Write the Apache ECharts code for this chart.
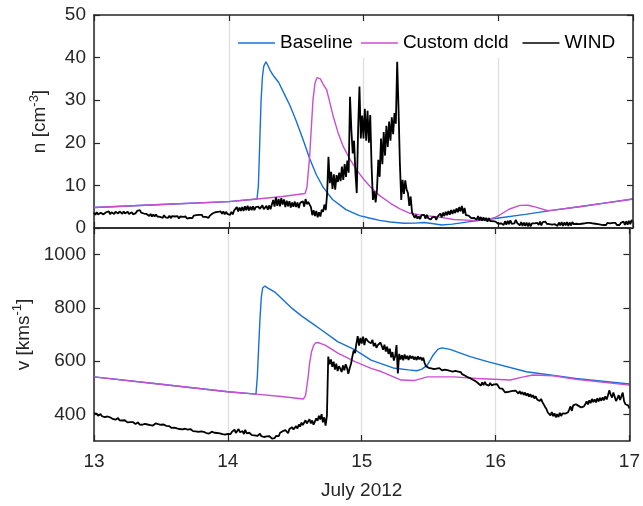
<!DOCTYPE html>
<html>
<head>
<meta charset="utf-8">
<script src="https://cdn.jsdelivr.net/npm/echarts@6/dist/echarts.min.js"></script>
<style>
  html, body { margin: 0; padding: 0; background: #fff; }
  #chart { width: 643px; height: 506px; }
</style>
</head>
<body>
<div id="chart"></div>
<script>
// Axis ticks
const dayTicks = [13, 14, 15, 16, 17];
const nTicks = [0, 10, 20, 30, 40, 50];
const vTicks = [400, 600, 800, 1000];

// WIND observations, sampled every 0.01 day from 13.00 to 17.00 July 2012
const windStart = 13;
const windStep = 0.01;
const windN = [
  3.6, 3.1, 3.7, 3.2, 3.0, 3.6, 3.8, 3.2, 3.1, 3.7,
  3.4, 3.9, 3.2, 3.7, 3.9, 3.3, 3.8, 4.0, 3.4, 3.9,
  3.8, 3.3, 3.9, 3.4, 3.2, 3.8, 3.3, 3.1, 3.7, 3.2,
  3.6, 3.5, 4.0, 3.6, 4.2, 3.6, 4.0, 3.4, 3.6, 3.3,
  3.4, 2.8, 3.3, 2.7, 3.2, 2.7, 3.2, 2.7, 2.9, 2.6,
  3.0, 2.4, 3.0, 2.5, 2.9, 2.4, 2.9, 2.3, 2.8, 2.4,
  2.7, 2.3, 2.8, 2.2, 2.7, 2.3, 2.6, 2.3, 2.7, 2.2,
  2.6, 2.4, 2.8, 2.3, 2.9, 2.5, 3.0, 2.6, 3.1, 2.7,
  3.1, 2.6, 2.9, 2.6, 2.9, 2.4, 2.9, 2.8, 3.4, 3.2,
  3.7, 3.4, 3.8, 3.5, 3.9, 3.3, 3.9, 3.2, 3.8, 3.3,
  3.6, 3.1, 3.8, 3.2, 4.1, 4.0, 4.9, 3.9, 4.8, 4.0,
  4.9, 4.0, 5.1, 4.2, 5.2, 4.1, 5.0, 4.2, 5.1, 4.2,
  4.9, 4.6, 5.0, 4.5, 4.9, 5.3, 4.4, 4.8, 5.2, 4.3,
  5.3, 4.4, 5.5, 6.6, 5.0, 7.2, 5.2, 6.8, 5.1, 7.0,
  5.5, 6.7, 4.9, 6.4, 5.1, 6.3, 4.8, 6.0, 5.0, 6.2,
  4.9, 6.0, 4.7, 5.9, 5.5, 6.3, 5.0, 6.8, 5.6, 6.1,
  5.5, 4.9, 3.0, 4.2, 2.8, 4.0, 2.5, 3.7, 2.7, 4.3,
  3.8, 5.5, 4.2, 8.0, 16.7, 10.5, 13.2, 9.2, 12.6, 9.0,
  12.4, 10.8, 13.0, 11.0, 14.4, 11.3, 15.0, 12.0, 15.8, 13.0,
  30.8, 23.0, 17.5, 20.5, 13.0, 8.2, 23.0, 33.2, 21.0, 26.4,
  21.0, 28.0, 20.5, 27.5, 20.0, 26.5, 14.4, 6.6, 8.6, 6.0,
  9.0, 16.0, 12.0, 21.0, 15.0, 22.5, 17.0, 24.0, 19.0, 25.0,
  20.5, 26.0, 22.0, 27.0, 24.5, 39.0, 28.0, 15.2, 6.6, 11.3,
  8.0, 11.2, 9.0, 8.2, 5.2, 7.4, 3.7, 3.6, 2.4, 3.1,
  2.2, 2.7, 2.1, 3.0, 2.6, 3.1, 2.2, 3.1, 2.3, 2.7,
  2.0, 2.5, 2.2, 2.6, 1.9, 2.7, 2.6, 3.4, 2.5, 3.6,
  2.8, 3.8, 3.0, 4.0, 3.1, 4.2, 3.3, 4.3, 3.5, 4.6,
  3.7, 4.9, 3.9, 5.2, 3.4, 4.7, 3.0, 3.3, 2.9, 3.0,
  2.3, 2.7, 2.4, 2.6, 1.9, 2.8, 1.8, 2.6, 1.7, 2.5,
  1.7, 2.4, 1.5, 2.3, 1.6, 2.0, 1.6, 1.9, 1.5, 1.8,
  1.0, 1.4, 1.1, 1.5, 0.7, 1.6, 0.8, 1.7, 0.9, 1.8,
  1.0, 1.4, 1.1, 1.9, 1.2, 1.5, 0.6, 1.4, 0.5, 1.3,
  0.5, 1.3, 0.4, 1.2, 0.4, 1.1, 0.7, 1.1, 0.8, 1.2,
  0.7, 1.5, 0.6, 1.4, 1.1, 1.5, 1.0, 1.3, 0.9, 1.2,
  0.8, 1.2, 0.9, 1.3, 0.5, 1.3, 0.6, 1.4, 0.5, 1.3,
  0.6, 1.4, 0.5, 1.3, 0.6, 1.4, 0.9, 1.3, 1.0, 1.4,
  0.9, 1.3, 1.0, 1.4, 1.1, 1.5, 1.2, 1.6, 1.2, 1.5,
  1.1, 1.4, 1.0, 1.3, 0.9, 1.2, 0.8, 1.2, 0.7, 1.1,
  0.7, 1.2, 0.8, 1.1, 0.7, 1.2, 0.8, 1.2, 0.7, 1.1,
  0.7, 1.2, 0.8, 1.5, 0.7, 1.6, 0.8, 1.7, 0.9, 1.9,
  1.4
];
const windV = [
  404, 399, 403, 395, 397, 401, 393, 396, 390, 394,
  392, 386, 389, 391, 383, 387, 380, 384, 386, 378,
  381, 377, 373, 378, 375, 370, 374, 371, 366, 371,
  369, 364, 367, 370, 362, 365, 361, 358, 364, 360,
  362, 357, 360, 364, 358, 362, 366, 371, 363, 366,
  361, 358, 362, 355, 357, 352, 356, 353, 349, 354,
  350, 353, 347, 349, 345, 350, 344, 341, 346, 342,
  343, 339, 345, 340, 337, 341, 336, 339, 334, 338,
  336, 331, 334, 337, 330, 333, 328, 332, 335, 329,
  331, 327, 330, 325, 329, 332, 326, 328, 324, 329,
  327, 331, 326, 334, 329, 343, 330, 336, 345, 333,
  331, 337, 326, 342, 329, 324, 331, 326, 322, 327,
  321, 325, 319, 323, 327, 318, 321, 315, 320, 317,
  313, 318, 312, 309, 316, 311, 319, 326, 318, 331,
  325, 337, 330, 341, 335, 329, 345, 339, 352, 343,
  349, 356, 347, 362, 354, 369, 360, 357, 378, 366,
  371, 382, 366, 377, 361, 373, 385, 376, 395, 381,
  401, 370, 389, 358, 394, 617, 588, 606, 579, 598,
  568, 590, 563, 581, 572, 559, 584, 566, 588, 575,
  552, 573, 590, 617, 640, 630, 665, 694, 658, 687,
  666, 692, 660, 686, 690, 673, 677, 667, 680, 656,
  668, 650, 660, 657, 670, 669, 643, 662, 636, 654,
  627, 647, 614, 634, 602, 619, 660, 554, 627, 606,
  622, 603, 625, 608, 620, 604, 621, 610, 619, 606,
  616, 604, 618, 607, 615, 603, 613, 593, 581, 583,
  575, 569, 573, 566, 570, 564, 572, 567, 574, 569,
  565, 571, 568, 574, 566, 570, 563, 568, 561, 558,
  563, 557, 561, 554, 559, 551, 555, 546, 549, 540,
  544, 536, 539, 530, 534, 525, 529, 517, 515, 508,
  520, 510, 522, 512, 519, 508, 518, 509, 506, 513,
  512, 514, 509, 498, 496, 497, 492, 483, 481, 484,
  483, 486, 484, 488, 486, 489, 488, 478, 487, 476,
  484, 473, 482, 470, 479, 467, 476, 464, 472, 460,
  468, 456, 463, 450, 458, 446, 446, 428, 420, 407,
  406, 396, 409, 393, 404, 389, 401, 390, 406, 394,
  404, 408, 403, 410, 407, 418, 430, 413, 434, 439,
  438, 443, 432, 436, 426, 431, 430, 438, 449, 437,
  453, 442, 458, 446, 456, 445, 460, 449, 462, 451,
  464, 453, 468, 456, 472, 491, 474, 463, 482, 466,
  450, 460, 472, 454, 456, 482, 450, 438, 434, 434,
  423
];

// Baseline model: density
const baseTn = [13.0, 13.5, 14.0, 14.21, 14.22, 14.23, 14.24, 14.25, 14.26, 14.276, 14.29, 14.31, 14.33, 14.37, 14.41, 14.455, 14.50, 14.55, 14.60, 14.65, 14.70, 14.77, 14.87, 14.97, 15.05, 15.12, 15.2, 15.3, 15.38, 15.45, 15.52, 15.58, 15.66, 15.79, 15.99, 16.2, 16.41, 16.6, 16.8, 17.0];
const baseN = [4.8, 5.5, 6.2, 6.8, 10, 20, 30, 35.5, 38, 39.0, 38.2, 36.8, 35.8, 34.2, 31.6, 28.7, 25.2, 20.9, 16.3, 12.5, 9.6, 6.7, 4.3, 2.9, 2.3, 1.8, 1.4, 1.1, 1.15, 1.3, 1.0, 0.7, 0.9, 1.5, 2.3, 3.2, 4.2, 5.0, 5.9, 6.8];

// Custom dcld model: density
const custTn = [13.0, 13.5, 14.0, 14.21, 14.4, 14.566, 14.58, 14.59, 14.60, 14.61, 14.625, 14.64, 14.655, 14.665, 14.68, 14.70, 14.727, 14.75, 14.776, 14.81, 14.85, 14.90, 14.95, 15.0, 15.05, 15.12, 15.2, 15.27, 15.345, 15.45, 15.54, 15.67, 15.8, 15.91, 15.97, 16.01, 16.08, 16.16, 16.22, 16.28, 16.36, 16.41, 16.6, 16.8, 17.0];
const custN = [4.8, 5.5, 6.2, 6.8, 7.4, 8.1, 9.5, 13, 16.7, 22, 30, 34, 35.3, 35.5, 35, 33.8, 32.4, 29.5, 26.1, 22.5, 19.1, 16.1, 13.6, 11.5, 9.7, 7.6, 5.8, 4.5, 3.45, 2.9, 2.66, 2.0, 1.8, 1.9, 2.4, 3.05, 4.4, 5.3, 5.35, 4.9, 4.1, 4.2, 5.0, 5.9, 6.8];

// Baseline model: speed
const baseTv = [13.0, 13.5, 14.0, 14.21, 14.22, 14.23, 14.24, 14.25, 14.26, 14.276, 14.30, 14.355, 14.40, 14.48, 14.55, 14.63, 14.70, 14.82, 14.95, 15.07, 15.245, 15.35, 15.41, 15.45, 15.49, 15.53, 15.57, 15.60, 15.66, 15.81, 15.94, 16.23, 16.6, 17.0];
const baseV = [541, 513, 485, 476, 540, 650, 760, 840, 875, 882, 874, 858, 836, 798, 770, 742, 717, 673, 642, 604, 573, 567, 564, 570, 585, 620, 645, 650, 644, 617, 598, 560, 535, 514];

// Custom dcld model: speed
const custTv = [13.0, 13.5, 14.0, 14.21, 14.4, 14.565, 14.58, 14.59, 14.60, 14.61, 14.625, 14.64, 14.655, 14.67, 14.69, 14.727, 14.825, 14.95, 15.07, 15.15, 15.295, 15.39, 15.45, 15.49, 15.57, 15.69, 15.86, 16.11, 16.2, 16.28, 16.43, 16.6, 17.0];
const custV = [541, 513, 485, 476, 467, 458, 470, 505, 541, 590, 635, 658, 668, 670, 667, 660, 629, 598, 573, 560, 529, 527, 535, 541, 541, 541, 535, 529, 540, 548, 545, 532, 510];

const FONT = '"Liberation Sans", Arial, Helvetica, sans-serif';
const AX = '#262626';
const C_BASE = '#1670d8';
const C_CUST = '#c94fd0';
const C_WIND = '#000000';

function pairs(t, v) { return v.map((y, i) => [t[i], y]); }
function windPairs(v) { return v.map((y, i) => [+(windStart + i * windStep).toFixed(2), y]); }

const gridBox = { left: 94, width: 539, height: 213 };
const axisLine = { show: true, onZero: false, lineStyle: { color: AX, width: 1.5 } };
const tickIn = { show: true, inside: true, length: 6, lineStyle: { color: AX, width: 1.2 } };
const labelStyle = { color: AX, fontSize: 19, fontFamily: FONT };
const gridLine = { show: true, lineStyle: { color: '#dedede', width: 1.3 } };

function xAxes(gridIndex, showLabels) {
  return [
    {
      type: 'value', gridIndex, position: 'bottom', min: 13, max: 17, interval: 1,
      axisLine, axisTick: tickIn, splitLine: gridLine,
      axisLabel: showLabels ? Object.assign({ margin: 11, formatter: v => dayTicks.includes(v) ? String(v) : '' }, labelStyle) : { show: false },
      name: showLabels ? 'July 2012' : '',
      nameLocation: 'middle', nameGap: 40,
      nameTextStyle: { color: AX, fontSize: 19, fontFamily: FONT }
    },
    {
      type: 'value', gridIndex, position: 'top', min: 13, max: 17, interval: 1, z: 10,
      axisLine, axisTick: tickIn, splitLine: { show: false }, axisLabel: { show: false }
    }
  ];
}

const supRich = {
  b: { fontSize: 19, color: AX, fontFamily: FONT, lineHeight: 24 },
  s: { fontSize: 13, color: AX, fontFamily: FONT, verticalAlign: 'top', lineHeight: 12 }
};

const option = {
  animation: false,
  backgroundColor: '#fff',
  grid: [
    Object.assign({ top: 15 }, gridBox),
    Object.assign({ top: 228 }, gridBox)
  ],
  legend: {
    left: 233, top: 16,
    backgroundColor: '#fff',
    padding: [16, 17, 4, 5],
    icon: 'rect', itemWidth: 37, itemHeight: 1.6, itemGap: 8,
    textStyle: { fontSize: 19, color: '#000', fontFamily: FONT, lineHeight: 22 },
    data: [
      { name: 'Baseline' },
      { name: 'Custom dcld', textStyle: { padding: [0, 6, 0, 0] } },
      { name: 'WIND' }
    ]
  },
  xAxis: [...xAxes(0, false), ...xAxes(1, true)],
  yAxis: [
    {
      type: 'value', gridIndex: 0, position: 'left', min: nTicks[0], max: nTicks[nTicks.length - 1], interval: 10,
      axisLine, axisTick: tickIn, splitLine: { show: false },
      axisLabel: Object.assign({ margin: 8, formatter: v => String(v) }, labelStyle),
      name: '{b|n [cm}{s|-3}{b|]}', nameLocation: 'middle', nameGap: 42, nameRotate: 90,
      nameTextStyle: { rich: supRich }
    },
    {
      type: 'value', gridIndex: 0, position: 'right', min: 0, max: 50, interval: 10, z: 10,
      axisLine, axisTick: tickIn, splitLine: { show: false }, axisLabel: { show: false }
    },
    {
      type: 'value', gridIndex: 1, position: 'left', min: 300, max: 1100,
      axisLine,
      axisTick: Object.assign({ customValues: vTicks }, tickIn),
      splitLine: { show: false },
      axisLabel: Object.assign({ margin: 8, customValues: vTicks, formatter: v => String(v) }, labelStyle),
      name: '{b|v [kms}{s|-1}{b|]}', nameLocation: 'middle', nameGap: 51, nameRotate: 90,
      nameTextStyle: { rich: supRich }
    },
    {
      type: 'value', gridIndex: 1, position: 'right', min: 300, max: 1100, z: 10,
      axisLine,
      axisTick: Object.assign({ customValues: vTicks }, tickIn),
      splitLine: { show: false }, axisLabel: { show: false }
    }
  ],
  series: [
    { name: 'Baseline', type: 'line', xAxisIndex: 0, yAxisIndex: 0, data: pairs(baseTn, baseN),
      showSymbol: false, lineStyle: { color: C_BASE, width: 1.4 }, itemStyle: { color: C_BASE } },
    { name: 'Custom dcld', type: 'line', xAxisIndex: 0, yAxisIndex: 0, data: pairs(custTn, custN),
      showSymbol: false, lineStyle: { color: C_CUST, width: 1.4 }, itemStyle: { color: C_CUST } },
    { name: 'WIND', type: 'line', xAxisIndex: 0, yAxisIndex: 0, data: windPairs(windN),
      showSymbol: false, lineStyle: { color: C_WIND, width: 1.8 }, itemStyle: { color: C_WIND } },
    { name: 'Baseline', type: 'line', xAxisIndex: 2, yAxisIndex: 2, data: pairs(baseTv, baseV),
      showSymbol: false, lineStyle: { color: C_BASE, width: 1.4 }, itemStyle: { color: C_BASE } },
    { name: 'Custom dcld', type: 'line', xAxisIndex: 2, yAxisIndex: 2, data: pairs(custTv, custV),
      showSymbol: false, lineStyle: { color: C_CUST, width: 1.4 }, itemStyle: { color: C_CUST } },
    { name: 'WIND', type: 'line', xAxisIndex: 2, yAxisIndex: 2, data: windPairs(windV),
      showSymbol: false, lineStyle: { color: C_WIND, width: 1.8 }, itemStyle: { color: C_WIND } }
  ]
};

const chart = echarts.init(document.getElementById('chart'), null, { renderer: 'canvas' });
chart.setOption(option);
</script>
</body>
</html>
